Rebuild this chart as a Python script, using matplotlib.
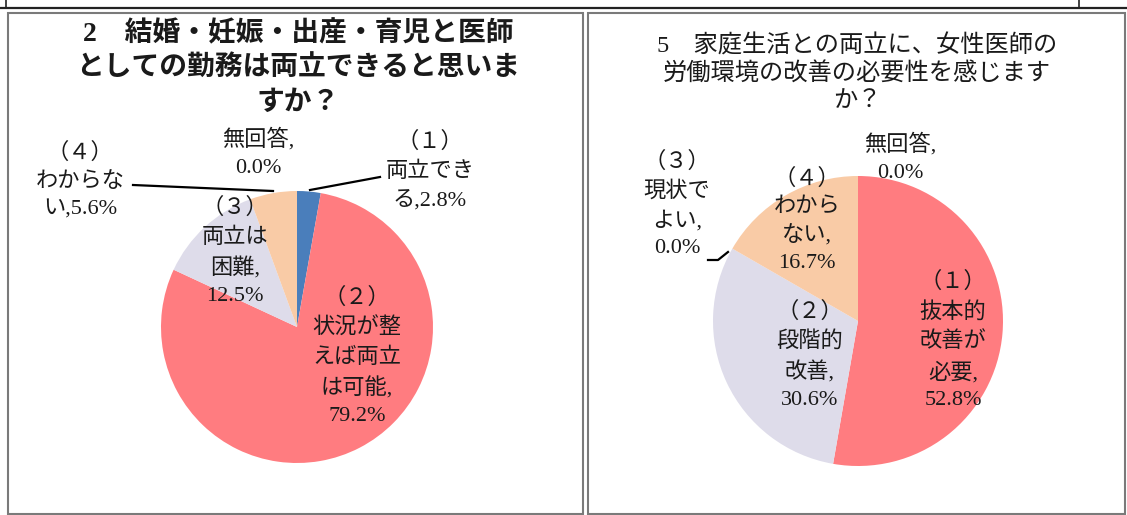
import matplotlib
matplotlib.use("Agg")
import matplotlib.pyplot as plt
from matplotlib.lines import Line2D
from matplotlib.patches import Rectangle

plt.rcParams['font.family'] = ['Liberation Serif', 'Noto Sans CJK JP', 'DejaVu Sans']

W, H = 1127, 515

# ---------------- data ----------------
title_left = "2　結婚・妊娠・出産・育児と医師\nとしての勤務は両立できると思いま\nすか？"
cats_left = ["（１）\n両立でき\nる", "（２）\n状況が整\nえば両立\nは可能", "（３）\n両立は\n困難",
             "（４）\nわからな\nい", "無回答"]
vals_left = [2.8, 79.2, 12.5, 5.6, 0.0]

title_right = "5　家庭生活との両立に、女性医師の\n労働環境の改善の必要性を感じます\nか？"
cats_right = ["（１）\n抜本的\n改善が\n必要", "（２）\n段階的\n改善", "（３）\n現状で\nよい",
              "（４）\nわから\nない", "無回答"]
vals_right = [52.8, 30.6, 0.0, 16.7, 0.0]

colors_left = ["#4A7EBB", "#FF7C80", "#DEDCEA", "#F9CBA6", "#9BBB59"]
colors_right = ["#FF7C80", "#DEDCEA", "#9BBB59", "#F9CBA6", "#8064A2"]

# label wrapping: whether the value goes on its own line
newline_left = [False, True, True, False, True]
newline_right = [True, True, True, True, True]

TXT = "#1a1a1a"


def fx(x):
    return x / W


def fy(y):
    return 1 - y / H


fig = plt.figure(figsize=(W / 100, H / 100), dpi=100)

# frames
fig.add_artist(Line2D([0, 1], [fy(8), fy(8)], color="#222222", lw=1.6))
fig.add_artist(Line2D([fx(6), fx(6)], [fy(0), fy(8)], color="#222222", lw=1.2))
fig.add_artist(Line2D([fx(1079), fx(1079)], [fy(0), fy(8)], color="#222222", lw=1.2))
fig.add_artist(Rectangle((fx(8), fy(514)), fx(583 - 8), (514 - 13) / H,
                         fill=False, edgecolor="#7a7a7a", lw=1.5))
fig.add_artist(Rectangle((fx(588), fy(514)), fx(1125 - 588), (514 - 13) / H,
                         fill=False, edgecolor="#7a7a7a", lw=1.5))


def make_pie(cx, cy, r, vals, colors):
    ax = fig.add_axes([fx(cx - r), fy(cy + r), 2 * r / W, 2 * r / H])
    ax.pie(vals, colors=colors, startangle=90, counterclock=False, radius=1,
           wedgeprops=dict(linewidth=0))
    ax.set_xlim(-1, 1)
    ax.set_ylim(-1, 1)
    ax.set_aspect("auto")
    ax.axis("off")
    return ax


def label(text, px, py, size=16, ls=1.55):
    fig.text(fx(px), fy(py), text, ha="center", va="center", fontsize=size,
             color=TXT, linespacing=ls, multialignment="center")


def pct_label(cat, v, nl):
    return f"{cat},\n{v:.1f}%" if nl else f"{cat},{v:.1f}%"


# ---------------- left panel ----------------
make_pie(297, 327, 136, vals_left, colors_left)
fig.text(fx(298), fy(68), title_left, ha="center", va="center", fontsize=20,
         fontweight="bold", color=TXT, linespacing=1.45)

pos_left = [(430, 171), (357, 357), (235, 252), (80, 181), (258, 153)]
for cat, v, nl, (px, py) in zip(cats_left, vals_left, newline_left, pos_left):
    label(pct_label(cat, v, nl), px, py)

fig.add_artist(Line2D([fx(133), fx(273)], [fy(185), fy(191)], color="black", lw=1.6))
fig.add_artist(Line2D([fx(310), fx(380)], [fy(190), fy(177)], color="black", lw=1.6))

# ---------------- right panel ----------------
make_pie(858, 321, 145, vals_right, colors_right)
fig.text(fx(857), fy(73), title_right, ha="center", va="center", fontsize=17.5,
         color=TXT, linespacing=1.3)

pos_right = [(953, 341), (810, 356), (677, 205), (807, 221), (900, 158)]
for cat, v, nl, (px, py) in zip(cats_right, vals_right, newline_right, pos_right):
    label(pct_label(cat, v, nl), px, py)

fig.add_artist(Line2D([fx(708), fx(718), fx(728)], [fy(260), fy(260), fy(252)],
                      color="black", lw=1.6))

fig.savefig("out.png", dpi=100)
